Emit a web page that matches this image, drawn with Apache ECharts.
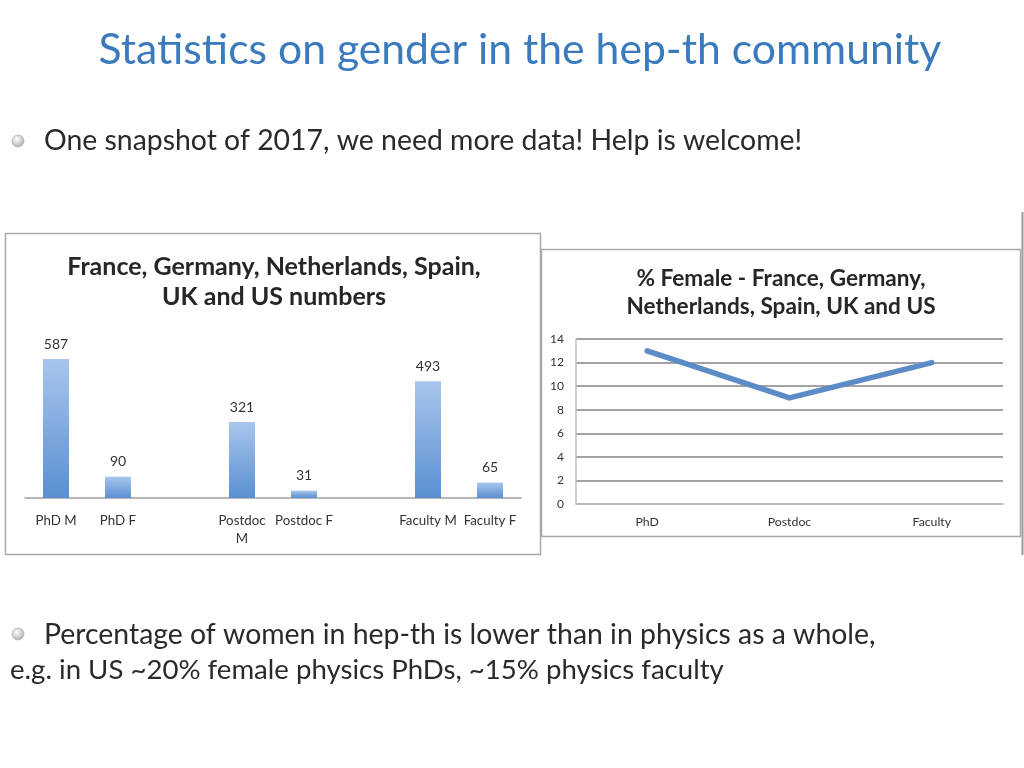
<!DOCTYPE html>
<html>
<head>
<meta charset="utf-8">
<script src="https://cdn.jsdelivr.net/npm/echarts@6/dist/echarts.min.js"></script>
<style>
html,body{margin:0;padding:0;background:#fff;}
#c{width:1024px;height:768px;}
</style>
</head>
<body>
<div id="c"></div>
<script>
// ---- data ----
const slideTitle = 'Statistics on gender in the hep-th community';
const bullet1 = 'One snapshot of 2017, we need more data! Help is welcome!';
const bullet2a = 'Percentage of women in hep-th is lower than in physics as a whole,';
const bullet2b = 'e.g. in US ~20% female physics PhDs, ~15% physics faculty';

const barTitle = ['France, Germany, Netherlands, Spain,', 'UK and US numbers'];
const barCategories = ['PhD M', 'PhD F', '', 'Postdoc M', 'Postdoc F', '', 'Faculty M', 'Faculty F'];
const barValues = [587, 90, null, 321, 31, null, 493, 65];

const lineTitle = ['% Female - France, Germany,', 'Netherlands, Spain, UK and US'];
const lineCategories = ['PhD', 'Postdoc', 'Faculty'];
const lineValues = [13, 9, 12];

// ---- chart ----
const chartFont = 'Lato';
const slideFont = 'Lato';
const chart = echarts.init(document.getElementById('c'), null, {renderer: 'canvas'});

function bulletDot(cx, cy) {
  return {
    type: 'circle', shape: {cx: cx, cy: cy, r: 6},
    style: {
      fill: new echarts.graphic.RadialGradient(0.4, 0.35, 0.7, [
        {offset: 0, color: '#ffffff'}, {offset: 1, color: '#a8a8a8'}
      ]),
      stroke: '#b0b0b0', lineWidth: 0.8
    }
  };
}

const option = {
  backgroundColor: '#ffffff',
  animation: false,
  textStyle: {fontFamily: chartFont},
  graphic: [
    {type: 'rect', shape: {x: 5.5, y: 233.5, width: 535, height: 321}, style: {fill: 'none', stroke: '#a8a8a8', lineWidth: 1.5}, z: 0},
    {type: 'rect', shape: {x: 541.5, y: 249.5, width: 479, height: 287}, style: {fill: 'none', stroke: '#a8a8a8', lineWidth: 1.5}, z: 0},
    {type: 'line', shape: {x1: 1022.5, y1: 212, x2: 1022.5, y2: 555}, style: {stroke: '#9a9a9a', lineWidth: 2}},
    {type: 'text', x: 520, y: 50, style: {text: slideTitle, font: '42.7px ' + slideFont, fill: '#3a7abd', textAlign: 'center', textVerticalAlign: 'middle'}},
    bulletDot(18, 141),
    {type: 'text', x: 44, y: 141, style: {text: bullet1, font: '28.4px ' + slideFont, fill: '#2a2a2a', textAlign: 'left', textVerticalAlign: 'middle'}},
    bulletDot(18, 634),
    {type: 'text', x: 44, y: 635, style: {text: bullet2a, font: '28.4px ' + slideFont, fill: '#2a2a2a', textAlign: 'left', textVerticalAlign: 'middle'}},
    {type: 'text', x: 10, y: 670, style: {text: bullet2b, font: '27.6px ' + slideFont, fill: '#2a2a2a', textAlign: 'left', textVerticalAlign: 'middle'}},
    {type: 'text', x: 274, y: 267, style: {text: barTitle[0], font: 'bold 25px ' + chartFont, fill: '#262626', textAlign: 'center', textVerticalAlign: 'middle'}},
    {type: 'text', x: 274, y: 297, style: {text: barTitle[1], font: 'bold 25px ' + chartFont, fill: '#262626', textAlign: 'center', textVerticalAlign: 'middle'}},
    {type: 'text', x: 781, y: 279, style: {text: lineTitle[0], font: 'bold 22.6px ' + chartFont, fill: '#262626', textAlign: 'center', textVerticalAlign: 'middle'}},
    {type: 'text', x: 781, y: 307, style: {text: lineTitle[1], font: 'bold 22.6px ' + chartFont, fill: '#262626', textAlign: 'center', textVerticalAlign: 'middle'}}
  ],
  grid: [
    {left: 25, top: 356, width: 496, height: 142, containLabel: false},
    {left: 576, top: 339, width: 427, height: 165, containLabel: false}
  ],
  xAxis: [
    {
      type: 'category', gridIndex: 0, data: barCategories,
      axisLine: {lineStyle: {color: '#a0a0a0', width: 1.5}},
      axisTick: {show: false},
      axisLabel: {
        interval: 0, margin: 14, fontSize: 13.3, color: '#333', fontFamily: chartFont, lineHeight: 18,
        formatter: function (v) { return v === 'Postdoc M' ? 'Postdoc\nM' : v; }
      }
    },
    {
      type: 'category', gridIndex: 1, data: lineCategories, boundaryGap: true,
      axisLine: {lineStyle: {color: '#c0c0c0', width: 1.5}},
      axisTick: {show: false},
      axisLabel: {margin: 12, fontSize: 12.3, color: '#333', fontFamily: chartFont}
    }
  ],
  yAxis: [
    {
      type: 'value', gridIndex: 0, min: 0, max: 600, show: false
    },
    {
      type: 'value', gridIndex: 1, min: 0, max: 14, interval: 2,
      axisLine: {show: true, lineStyle: {color: '#c0c0c0', width: 1.5}},
      axisTick: {show: false},
      axisLabel: {margin: 12, fontSize: 12, color: '#333', fontFamily: chartFont},
      splitLine: {lineStyle: {color: '#858585', width: 1.6}}
    }
  ],
  series: [
    {
      type: 'bar', xAxisIndex: 0, yAxisIndex: 0, data: barValues, barWidth: 26,
      itemStyle: {
        color: new echarts.graphic.LinearGradient(0, 0, 0, 1, [
          {offset: 0, color: '#a8c6ec'}, {offset: 1, color: '#5a8fd2'}
        ])
      },
      label: {show: true, position: 'top', distance: 8, fontSize: 14, color: '#333', fontFamily: chartFont}
    },
    {
      type: 'line', xAxisIndex: 1, yAxisIndex: 1, data: lineValues,
      showSymbol: false, symbol: 'none',
      lineStyle: {color: '#5b8cc6', width: 5.5, cap: 'round', join: 'round'}
    }
  ]
};
chart.setOption(option);
</script>
</body>
</html>
